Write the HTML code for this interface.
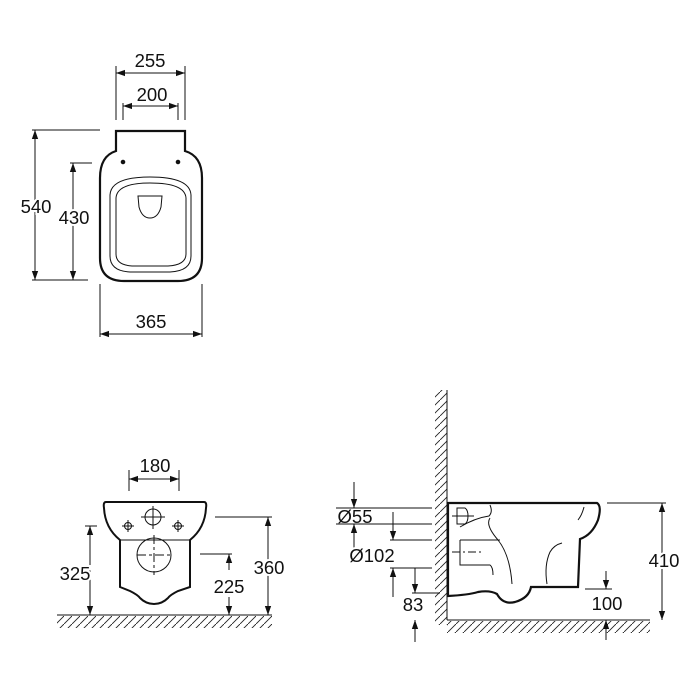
<!DOCTYPE html>
<html><head><meta charset="utf-8"><style>
html,body{margin:0;padding:0;background:#fff;}
svg{display:block}
text{font-family:"Liberation Sans",Arial,sans-serif;font-size:18.5px;fill:#111;text-anchor:middle;stroke:#fff;stroke-width:4px;paint-order:stroke;}
</style></head><body>
<svg width="700" height="700" viewBox="0 0 700 700" xmlns="http://www.w3.org/2000/svg">
<defs>
<marker id="a" viewBox="0 0 10 10" refX="10" refY="5" markerWidth="9" markerHeight="9" orient="auto-start-reverse" markerUnits="userSpaceOnUse"><path d="M0,1.5 L10,5 L0,8.5 Z" fill="#111"/></marker>
<pattern id="h" width="8" height="8" patternUnits="userSpaceOnUse"><path d="M0,8 L8,0" stroke="#222" stroke-width="0.9"/></pattern>
</defs>
<g stroke="#111" stroke-width="1" fill="none">
<!-- TOP VIEW -->
<line x1="116" y1="66" x2="116" y2="120"/><line x1="185" y1="66" x2="185" y2="120"/>
<line x1="116" y1="73" x2="185" y2="73" marker-start="url(#a)" marker-end="url(#a)"/>
<line x1="123" y1="103" x2="123" y2="120"/><line x1="178" y1="103" x2="178" y2="120"/>
<line x1="123" y1="106" x2="178" y2="106" marker-start="url(#a)" marker-end="url(#a)"/>
<line x1="32" y1="130" x2="100" y2="130"/><line x1="32" y1="280" x2="88" y2="280"/>
<line x1="35" y1="130" x2="35" y2="280" marker-start="url(#a)" marker-end="url(#a)"/>
<line x1="70" y1="163" x2="92" y2="163"/>
<line x1="73" y1="163" x2="73" y2="280" marker-start="url(#a)" marker-end="url(#a)"/>
<line x1="100" y1="284" x2="100" y2="337"/><line x1="202" y1="284" x2="202" y2="337"/>
<line x1="100" y1="334" x2="202" y2="334" marker-start="url(#a)" marker-end="url(#a)"/>
<path d="M116,131 L185,131 L185,151 Q202,156 202,178 L202,258 Q202,281 178,281 L124,281 Q100,281 100,258 L100,178 Q100,156 116,151 Z" stroke-width="2.2"/>
<path d="M150,177 Q190,177 191,195 L191,256 Q191,271 170,272 L130,272 Q110,271 110,256 L110,195 Q111,177 150,177 Z"/>
<path d="M150,183 Q185,183 186,198 L186,254 Q186,265 168,266 L132,266 Q116,265 116,254 L116,198 Q117,183 150,183 Z"/>
<path d="M138,196 L162,196 L161,207 Q158,218 150,218 Q142,218 139,207 Z"/>
<circle cx="123" cy="162" r="1.8" fill="#111"/><circle cx="178" cy="162" r="1.8" fill="#111"/>
<!-- FRONT VIEW -->
<line x1="129" y1="470" x2="129" y2="491"/><line x1="179" y1="470" x2="179" y2="491"/>
<line x1="129" y1="479" x2="179" y2="479" marker-start="url(#a)" marker-end="url(#a)"/>
<path d="M106,502 L204,502 Q207,502 206,508 Q205,528 190,540 L190,587 L178,591 Q170,595 168,598 Q162,604 154,604 Q146,604 140,598 Q138,595 130,591 L120,587 L120,540 Q105,528 104,508 Q103,502 106,502 Z" stroke-width="2"/>
<line x1="120" y1="540" x2="190" y2="540"/>
<circle cx="153" cy="517" r="8"/><line x1="141" y1="517" x2="165" y2="517"/><line x1="153" y1="506" x2="153" y2="529"/>
<circle cx="128" cy="526" r="3.5"/><line x1="122" y1="526" x2="134" y2="526"/><line x1="128" y1="520" x2="128" y2="532"/>
<circle cx="178" cy="526" r="3.5"/><line x1="172" y1="526" x2="184" y2="526"/><line x1="178" y1="520" x2="178" y2="532"/>
<circle cx="154" cy="555" r="17"/><line x1="137" y1="555" x2="172" y2="555" stroke-dasharray="9,3,3,3"/><line x1="154" y1="535" x2="154" y2="575" stroke-dasharray="9,3,3,3"/>
<line x1="85" y1="526" x2="97" y2="526"/>
<line x1="90" y1="526" x2="90" y2="615" marker-start="url(#a)" marker-end="url(#a)"/>
<line x1="215" y1="517" x2="272" y2="517"/>
<line x1="268" y1="517" x2="268" y2="615" marker-start="url(#a)" marker-end="url(#a)"/>
<line x1="200" y1="554" x2="232" y2="554"/>
<line x1="229" y1="570" x2="229" y2="554" marker-end="url(#a)"/>
<line x1="229" y1="597" x2="229" y2="615" marker-end="url(#a)"/>
<line x1="57" y1="615" x2="272" y2="615"/>
<rect x="57" y="616" width="215" height="12" fill="url(#h)" stroke="none"/>
<!-- SIDE VIEW -->
<rect x="435" y="390" width="12" height="235" fill="url(#h)" stroke="none"/>
<line x1="447" y1="390" x2="447" y2="620"/>
<line x1="447" y1="620" x2="650" y2="620"/>
<rect x="447" y="621" width="203" height="12" fill="url(#h)" stroke="none"/>
<path d="M448,503 L597,503 Q602,506 598,520 Q592,535 580,539 L578,587 L531,587 Q529,598 515,602 Q503,605 497,594 Q490,590 478,592 Q468,595 448,596 Z" stroke-width="2.2"/>
<path d="M457,508 L465,508 Q468,510 468,516 Q468,522 465,524 L457,524 Z"/>
<line x1="452" y1="516" x2="474" y2="516"/>
<path d="M460,527 Q475,518 489,516 Q493,512 490,505"/>
<path d="M490,518 Q485,525 498,540 Q510,555 512,584"/>
<path d="M460,540 L500,540"/>
<path d="M460,540 L460,565 L490,565 Q493,567 493,575"/>
<line x1="452" y1="552" x2="482" y2="552" stroke-dasharray="8,3,2,3"/>
<path d="M547,584 Q544,565 550,552 Q554,545 562,543"/>
<path d="M584,507 Q582,515 578,520"/>
<line x1="607" y1="503" x2="666" y2="503"/>
<line x1="662" y1="503" x2="662" y2="620" marker-start="url(#a)" marker-end="url(#a)"/>
<line x1="585" y1="589" x2="612" y2="589"/>
<line x1="606" y1="571" x2="606" y2="589" marker-end="url(#a)"/>
<line x1="606" y1="640" x2="606" y2="620" marker-end="url(#a)"/>
<line x1="336" y1="508" x2="432" y2="508"/><line x1="336" y1="524" x2="432" y2="524"/>
<line x1="354" y1="482" x2="354" y2="508" marker-end="url(#a)"/>
<line x1="354" y1="552" x2="354" y2="524" marker-end="url(#a)"/>
<line x1="390" y1="540" x2="432" y2="540"/><line x1="390" y1="568" x2="432" y2="568"/>
<line x1="393" y1="512" x2="393" y2="540" marker-end="url(#a)"/>
<line x1="393" y1="597" x2="393" y2="568" marker-end="url(#a)"/>
<line x1="412" y1="593" x2="440" y2="593"/>
<line x1="415" y1="568" x2="415" y2="593" marker-end="url(#a)"/>
<line x1="415" y1="642" x2="415" y2="620" marker-end="url(#a)"/>
</g>
<text x="150" y="67">255</text>
<text x="152" y="101">200</text>
<text x="36" y="213">540</text>
<text x="74" y="224">430</text>
<text x="151" y="328">365</text>
<text x="155" y="472">180</text>
<text x="75" y="580">325</text>
<text x="269" y="574">360</text>
<text x="229" y="593">225</text>
<text x="355" y="523" style="stroke:none">Ø55</text>
<text x="372" y="562">Ø102</text>
<text x="413" y="611">83</text>
<text x="607" y="610">100</text>
<text x="664" y="567">410</text>
</svg>
</body></html>
